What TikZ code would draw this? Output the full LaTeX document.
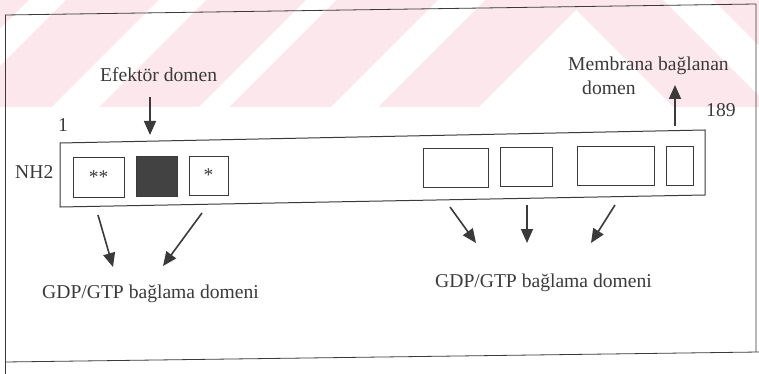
\documentclass[tikz,border=0pt]{standalone}
\usepackage{fontspec}
\setmainfont{Liberation Serif}
\usetikzlibrary{arrows.meta}
\definecolor{ink}{HTML}{3A3A3A}
\definecolor{wm}{HTML}{FCE8EC}
\definecolor{darkfill}{HTML}{424242}
\begin{document}
\begin{tikzpicture}[x=1pt,y=-1pt,
  dbox/.style={draw=ink,line width=0.9pt,inner sep=0pt,outer sep=0pt,minimum height=39pt,font=\fontsize{19.5}{22}\selectfont,text=ink},
  arr/.style={draw=ink,line width=1.6pt,-{Triangle[length=14pt,width=12pt]}},
  lbl/.style={font=\fontsize{19.6}{22}\selectfont,text=ink,inner sep=0pt,anchor=base west},
  frameline/.style={draw=ink,line width=0.8pt},
  stripe/.style={fill=white,draw=none}]
\useasboundingbox (0,0) rectangle (759,374);
% watermark band
\fill[wm] (0,0) rectangle (759,107);
\fill[stripe] (29,0) -- (66,0) -- (-41,107) -- (-78,107) -- cycle;
\fill[stripe] (159,0) -- (206,0) -- (99,107) -- (52,107) -- cycle;
\fill[stripe] (306,0) -- (336,0) -- (229,107) -- (199,107) -- cycle;
\fill[stripe] (438,0) -- (485,0) -- (378,107) -- (331,107) -- cycle;
\fill[stripe] (576,10) -- (673,107) -- (479,107) -- cycle;
\fill[stripe] (663,0) -- (713,0) -- (820,107) -- (770,107) -- cycle;
% outer frame
\draw[frameline] (5,15) -- (756,4) -- (756,352);
\draw[frameline] (5,15) -- (5,374);
\draw[frameline] (5,362) -- (759,352);
% protein bar
\draw[draw=ink,line width=1pt] (60,143) -- (705,130) -- (705,195) -- (60,207) -- cycle;
% domain boxes
\node[dbox,minimum width=51pt,minimum height=40pt] (b1) at (98.5,177) {**};
\node[dbox,minimum width=41pt,minimum height=40pt,fill=darkfill] (b2) at (156.5,176) {};
\node[dbox,minimum width=39pt] (b3) at (208.5,175.5) {*};
\node[dbox,minimum width=65pt] (b4) at (455.5,167.5) {};
\node[dbox,minimum width=52pt] (b5) at (526,167) {};
\node[dbox,minimum width=77pt] (b6) at (615.5,166) {};
\node[dbox,minimum width=27pt] (b7) at (679.5,165.5) {};
% labels
\node[lbl] (efk) at (100,82) {Efektör domen};
\node[lbl] (one) at (58,132) {1};
\node[lbl] (nh) at (15,178) {NH2};
\node[lbl] (mem1) at (568,71) {Membrana bağlanan};
\node[lbl] (mem2) at (582,95) {domen};
\node[lbl] (n189) at (706,117) {189};
\node[lbl] (gl) at (42,298) {GDP/GTP bağlama domeni};
\node[lbl] (gr) at (435,287) {GDP/GTP bağlama domeni};
% arrow end points
\coordinate (e0) at (150,97);  \coordinate (e1) at (150,135);
\coordinate (m0) at (675,126); \coordinate (m1) at (675,85);
\coordinate (l1a) at (98,215);  \coordinate (l1b) at (113,267);
\coordinate (l2a) at (202,213); \coordinate (l2b) at (163,266);
\coordinate (r1a) at (450,207); \coordinate (r1b) at (476,243);
\coordinate (r2a) at (527,205); \coordinate (r2b) at (527,243);
\coordinate (r3a) at (615,205); \coordinate (r3b) at (591,243);
% arrows
\draw[arr] (e0) -- (e1);
\draw[arr] (m0) -- (m1);
\draw[arr] (l1a) -- (l1b);
\draw[arr] (l2a) -- (l2b);
\draw[arr] (r1a) -- (r1b);
\draw[arr] (r2a) -- (r2b);
\draw[arr] (r3a) -- (r3b);
\end{tikzpicture}
\end{document}
